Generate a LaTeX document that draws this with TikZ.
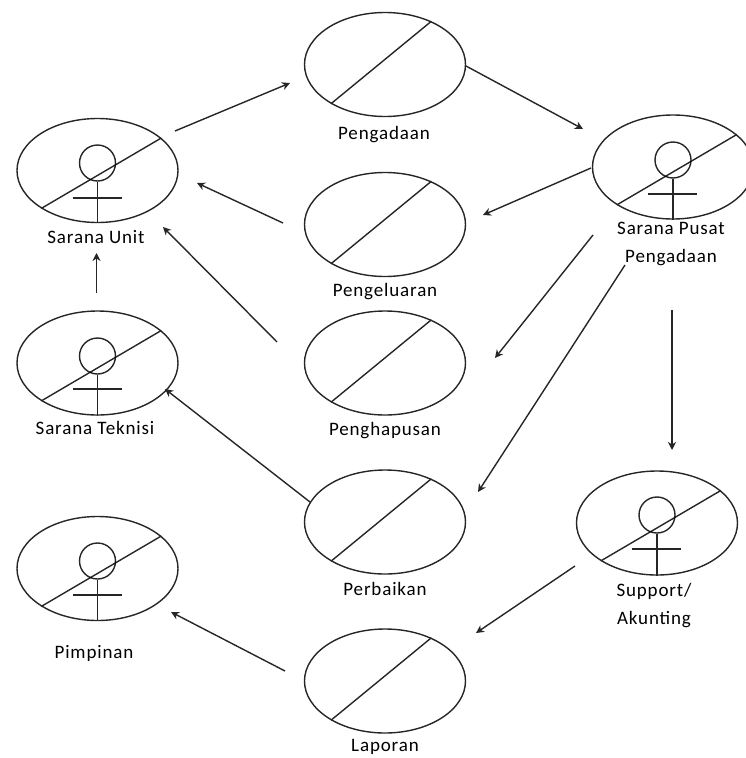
\documentclass[tikz,border=0pt]{standalone}
\usepackage{fontspec}
\setmainfont[LetterSpace=4.5]{Carlito}
\usetikzlibrary{shapes.geometric,arrows.meta}

\tikzset{
    usecase/.style={draw,ellipse,minimum width=161pt,minimum height=104pt,inner sep=0pt},
    head/.style={draw,circle,minimum size=36pt,inner sep=0pt},
    lbl/.style={align=center,font=\fontsize{19}{28}\selectfont,inner sep=0pt},
    line/.style={line width=1.4pt,draw=black!85},
    flow/.style={line,-{Stealth[length=8pt,width=8pt,inset=2.5pt]}}
}

\begin{document}
\begin{tikzpicture}[x=1pt,y=-1pt,every node/.append style={line width=1.4pt,draw opacity=0.85}]
    \useasboundingbox (0,0) rectangle (745,758);

    % use cases
    \foreach \nm/\x/\y in {pengadaan/385/64.5, pengeluaran/385/224.5, penghapusan/385/363, perbaikan/385/522, laporan/385/681}
    {
        \node[usecase] (\nm) at (\x,\y) {};
        \draw[line] (\nm.216) -- (\nm.43);
    }

    % actors
    \foreach \nm/\x/\y/\hy/\ay in {unit/97.5/170.5/163/198, teknisi/97.5/363/356/389, pusat/673/167/160/194, support/657/523/515/549, pimpinan/97.5/568.5/561/595}
    {
        \node[usecase] (\nm) at (\x,\y) {};
        \draw[line] (\nm.214.5) -- (\nm.27.5);
        \node[head] (\nm head) at (\x,\hy) {};
        \draw[line] (\nm head.south) -- (\nm.south);
        \coordinate (\nm arml) at (\x-25,\ay);
        \coordinate (\nm armr) at (\x+24,\ay);
        \draw[line] (\nm arml) -- (\nm armr);
    }

    % labels
    \node[lbl] (lbpengadaan) at (384,135) {Pengadaan};
    \node[lbl] (lbpengeluaran) at (385,292) {Pengeluaran};
    \node[lbl] (lbpenghapusan) at (385,431) {Penghapusan};
    \node[lbl] (lbperbaikan) at (385,589) {Perbaikan};
    \node[lbl] (lblaporan) at (385,747) {Laporan};
    \node[lbl] (lbunit) at (96,237) {Sarana Unit};
    \node[lbl] (lbteknisi) at (95,428) {Sarana Teknisi};
    \node[lbl] (lbpimpinan) at (94,653) {Pimpinan};
    \node[lbl] (lbpusat) at (671,244) {Sarana Pusat\\Pengadaan};
    \node[lbl] (lbsupport) at (654,606) {Support/\\Akunting};

    % free ends of the arrows
    \foreach \nm/\x/\y in {a/175/131, b/290/83, c/466/66, d/583/129, e/591/168, f/483/215,
        g/283/223, h/197/183, i/277/342, j/163/227, k/96.5/293, l/96.5/253,
        m/593/235, n/495/358, o/625/265, p/478/492, q/310/502, r/165/389,
        s/672/310, t/672/450, u/575/566, v/476/633, w/285/671, z/171/612}
        \coordinate (\nm) at (\x,\y);

    \draw[flow] (a) -- (b);
    \draw[flow] (c) -- (d);
    \draw[flow] (e) -- (f);
    \draw[flow] (g) -- (h);
    \draw[flow] (i) -- (j);
    \draw[flow] (k) -- (l);
    \draw[flow] (m) -- (n);
    \draw[flow] (o) -- (p);
    \draw[flow] (q) -- (r);
    \draw[flow] (s) -- (t);
    \draw[flow] (u) -- (v);
    \draw[flow] (w) -- (z);
\end{tikzpicture}
\end{document}
